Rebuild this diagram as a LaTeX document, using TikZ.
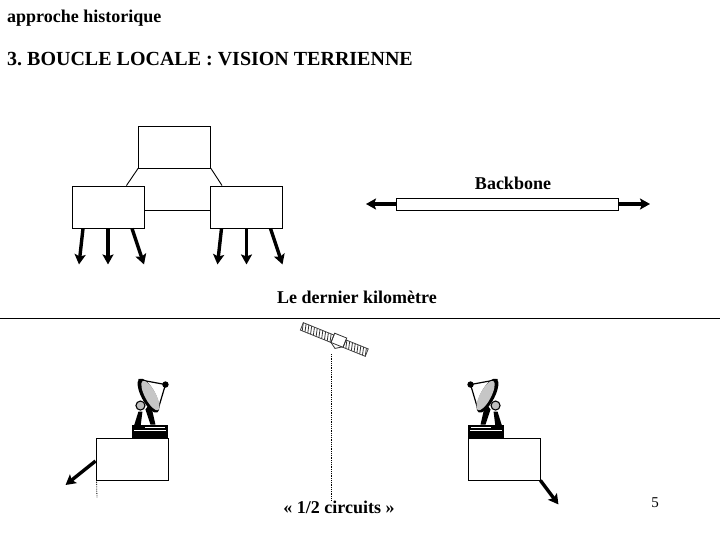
\documentclass[tikz,border=0pt]{standalone}
\usepackage{fontspec}
\setmainfont{Liberation Serif}
\usetikzlibrary{arrows.meta}
\frenchspacing
\tikzset{
	boite/.style={draw,line width=0.9pt,fill=white,inner sep=0pt,minimum width=72pt,minimum height=42pt},
	fleche/.style={line width=3.4pt,-{Stealth[length=10pt,width=11pt,inset=2pt]}},
	lien/.style={line width=0.9pt},
	pointille/.style={line width=0.8pt,densely dotted},
	titre/.style={font=\fontsize{18}{21}\selectfont\bfseries,inner sep=0pt},
	parabole/.pic={
		% socle
		\fill[black] (-18,0) rectangle (18,-13);
		\draw[white,line width=0.7pt] (-16,-7) -- (16,-7);
		\fill[white] (-5,-11) rectangle (15,-9.4);
		% pied
		\fill[black] (-17,-10) -- (-12,-26) -- (-8,-26) -- (-10,-10) -- cycle;
		\fill[black] (0,-35) -- (5,-13) -- (0,-13) -- (-5,-28) -- cycle;
		\draw[fill=gray!50,line width=1.1pt] (-10,-32) circle (4.5pt);
		% bras
		\draw[line width=1.2pt] (-12,-58) -- (15,-53) -- (7,-26);
		\fill[black] (15,-53) circle (3.2pt);
		% coupole
		\fill[black,rotate around={-62:(-2,-42)}] (-2,-42) ellipse (19pt and 7pt);
		\fill[gray!45,rotate around={-62:(0,-42)}] (0,-42) ellipse (16.5pt and 5.5pt);
	},
	satellite/.pic={
		\foreach \i in {0,...,10}{
			\draw[line width=0.8pt,gray!40!black] (-39+\i*3,-4) -- (-37+\i*3,4);
		}
		\foreach \i in {0,...,7}{
			\draw[line width=0.8pt,gray!40!black] (8+\i*3,-4) -- (10+\i*3,4);
		}
		\draw[line width=0.8pt,gray!50!black] (-39,-4) rectangle (-6,4);
		\draw[line width=0.8pt,gray!50!black] (7,-4) rectangle (31,4);
		\draw[line width=0.8pt,gray!40!black] (-6,-6) rectangle (7,4);
		\draw[line width=0.8pt,gray!40!black] (-6,4) -- (0,8) -- (6,4);
	}
}
\begin{document}
\begin{tikzpicture}[x=1pt,y=-1pt]
	\useasboundingbox (0,0) rectangle (720,540);
	% en-tete
	\node[titre,anchor=west] (entete) at (7,18.5) {approche historique};
	\node[font=\fontsize{20}{24}\selectfont\bfseries,inner sep=0pt,anchor=west] (soustitre) at (7,59.5) {3. BOUCLE LOCALE : VISION TERRIENNE};
	% reseau
	\node[boite] (haut) at (174.5,147) {};
	\node[boite] (gauche) at (108,207) {};
	\node[boite] (droite) at (246.5,207) {};
	\draw[lien] (haut.south west) -- ([xshift=-18pt]gauche.north east);
	\draw[lien] (haut.south east) -- ([xshift=12pt]droite.north west);
	\draw[lien] ([yshift=-3pt]gauche.east) -- ([yshift=-3pt]droite.west);
	\foreach \n in {gauche,droite}{
		\draw[fleche] ([xshift=-25pt]\n.south) -- ++(-4,36);
		\draw[fleche] (\n.south) -- ++(0,36);
		\draw[fleche] ([xshift=24pt]\n.south) -- ++(12,36);
	}
	% backbone
	\node[draw,line width=0.9pt,fill=white,inner sep=0pt,minimum width=222pt,minimum height=12pt] (tube) at (507,204) {};
	\node[titre] (backbone) at (513,183) {Backbone};
	\coordinate (bg) at (366,204);
	\coordinate (bd) at (650,204);
	\draw[fleche] (tube.west) -- (bg);
	\draw[fleche] ([xshift=1pt]tube.east) -- (bd);
	% separation
	\node[titre] (kilometre) at (357,297) {Le dernier kilomètre};
	\coordinate (sepg) at (0,318);
	\coordinate (sepd) at (720,318);
	\draw[line width=0.9pt] (sepg) -- (sepd);
	% satellite
	\pic[rotate=-22] at (338,341) {satellite};
	\coordinate (sat) at (331,354);
	\node[boite] (sol1) at (132,459) {};
	\node[boite] (sol2) at (504,459) {};
	\coordinate (basesat) at (331,500);
	\draw[pointille] (sat) -- (basesat);
	\node[titre] (circuits) at (339,507) {« 1/2 circuits »};
	\pic at ([xshift=-18pt]sol1.north east) {parabole};
	\pic[xscale=-1] at ([xshift=18pt]sol2.north west) {parabole};
	\coordinate (pied) at (97,498);
	\draw[pointille] ([xshift=1pt]sol1.south west) -- (pied);
	\draw[fleche] ([yshift=-2pt]sol1.west) -- ++(-30,24);
	\draw[fleche] (sol2.south east) -- ++(18,24);
	% page
	\node[font=\fontsize{15}{17}\selectfont,inner sep=0pt] (page) at (655,503) {5};
\end{tikzpicture}
\end{document}
